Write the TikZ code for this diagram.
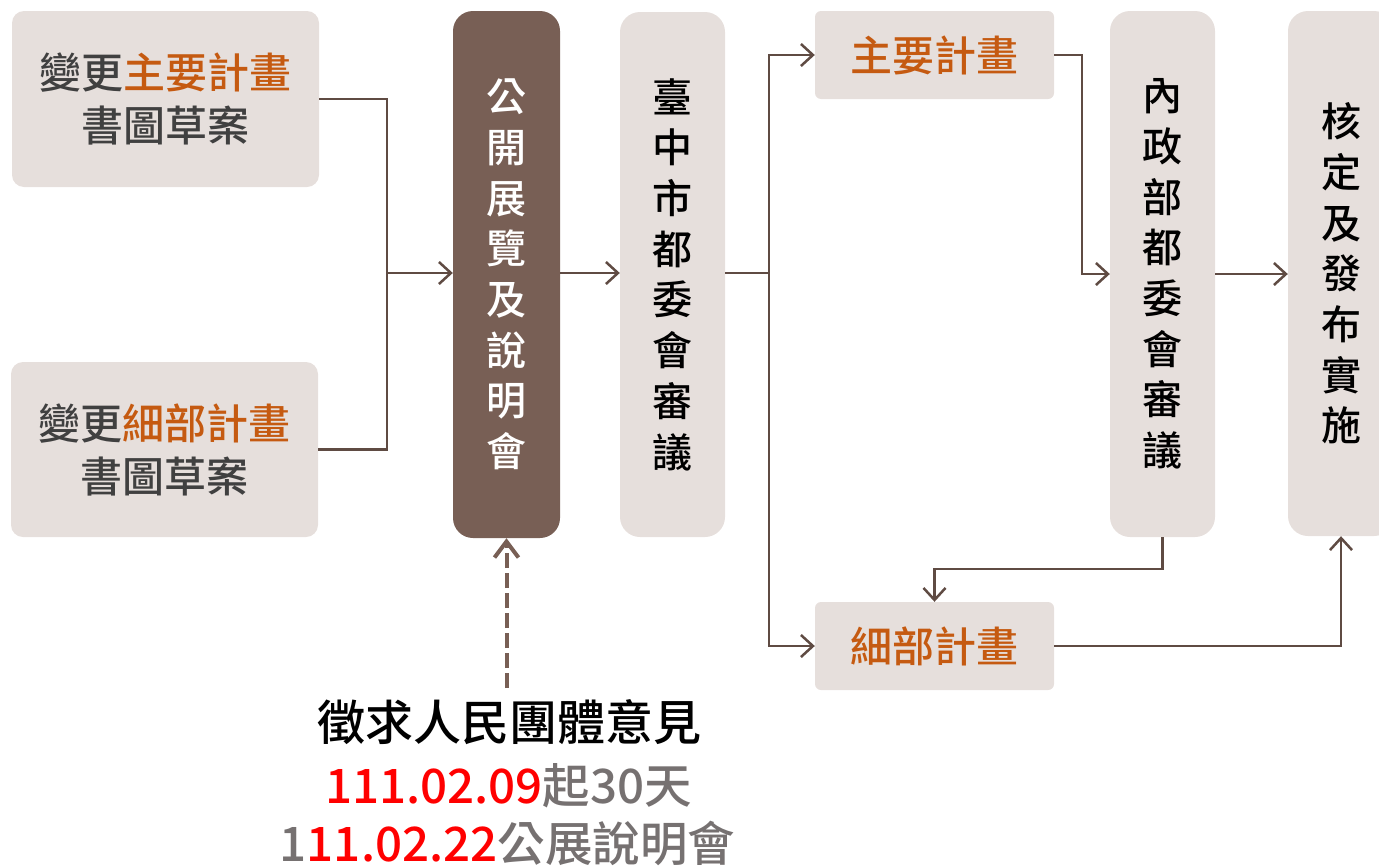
\documentclass[tikz,border=0pt]{standalone}
\usepackage{fontspec}
\setmainfont{Noto Sans CJK TC}[BoldFont={Noto Sans CJK TC Medium}]
\usetikzlibrary{arrows.meta}
\definecolor{boxfill}{HTML}{E6DFDC}
\definecolor{darkbox}{HTML}{785F55}
\definecolor{linec}{HTML}{5F4B43}
\definecolor{orangetxt}{HTML}{C55A11}
\definecolor{graytxt}{HTML}{404040}
\definecolor{greytxt}{HTML}{767171}
\definecolor{redtxt}{HTML}{FF0000}
\tikzset{
  lbox/.style={rectangle, rounded corners=12pt, fill=boxfill, inner sep=0pt, align=center,
    text=graytxt, font=\bfseries\fontsize{42}{53}\selectfont},
  pbox/.style={rectangle, rounded corners=6pt, fill=boxfill, inner sep=0pt, align=center,
    text=orangetxt, font=\bfseries\fontsize{42}{53}\selectfont,
    minimum width=239pt, minimum height=88pt},
  vbox/.style={rectangle, rounded corners=20pt, fill=boxfill, inner sep=0pt, align=center,
    text=black, font=\bfseries\fontsize{40}{50.7}\selectfont},
  conn/.style={draw=linec, line width=2.5pt},
  arr/.style={conn, -{Straight Barb[length=12pt,width=22pt]}},
  dasharr/.style={draw=darkbox, line width=4pt, dash pattern=on 15pt off 5pt,
    -{Straight Barb[length=16pt,width=24pt]}},
}
\begin{document}
\begin{tikzpicture}[x=1pt,y=-1pt]
\useasboundingbox (0,0) rectangle (1379,865);
\clip (0,0) rectangle (1379,865);
% boxes
\node[lbox, minimum width=307pt, minimum height=176pt] (A) at (165.5,99)
  {變更\textcolor{orangetxt}{主要計畫}\\書圖草案};
\node[lbox, minimum width=307pt, minimum height=175pt] (B) at (164.5,449.5)
  {變更\textcolor{orangetxt}{細部計畫}\\書圖草案};
\node[vbox, fill=darkbox, text=white, minimum width=107pt, minimum height=527pt] (C) at (506.5,274.5)
  {公\\開\\展\\覽\\及\\說\\明\\會};
\node[vbox, minimum width=105pt, minimum height=525pt] (D) at (672.5,274.5)
  {臺\\中\\市\\都\\委\\會\\審\\議};
\node[pbox] (E) at (934.5,55) {主要計畫};
\node[vbox, minimum width=105pt, minimum height=526pt] (F) at (1162.5,274)
  {內\\政\\部\\都\\委\\會\\審\\議};
\node[vbox, minimum width=106pt, minimum height=525pt] (G) at (1341,273.5)
  {核\\定\\及\\發\\布\\實\\施};
\node[pbox] (H) at (934.5,646) {細部計畫};
% bottom texts
\node[font=\bfseries\fontsize{48}{50}\selectfont, text=black] (T1) at (509,722) {徵求人民團體意見};
\node[font=\bfseries\fontsize{47.5}{50}\selectfont, text=greytxt] (T2) at (508.5,786)
  {\textcolor{redtxt}{111.02.09}起30天};
\node[font=\bfseries\fontsize{47.5}{50}\selectfont, text=greytxt] (T3) at (507.5,843)
  {1\textcolor{redtxt}{11.02.22}公展說明會};
% junctions
\coordinate (J1) at (387,273);
\coordinate (J2) at (769,273);
\coordinate (K) at (506.5,688);
% connectors
\draw[conn] (A.east) -| (J1);
\draw[conn] (B.east) -| (J1);
\draw[arr] (J1) -- (C.west |- J1);
\draw[arr] (C.east |- J1) -- (D.west |- J1);
\draw[conn] (D.east |- J2) -- (J2);
\draw[arr] (J2) |- (E.west);
\draw[arr] (J2) |- (H.west);
\draw[arr] (E.east) -- ++(28,0) |- (F.west);
\draw[arr] (F.east) -- (G.west |- F.east);
\draw[arr] (F.south) -- ++(0,32) -| (H.north);
\draw[arr] (H.east) -| (G.south);
\draw[dasharr] (K) -- (C.south);
\end{tikzpicture}
\end{document}
